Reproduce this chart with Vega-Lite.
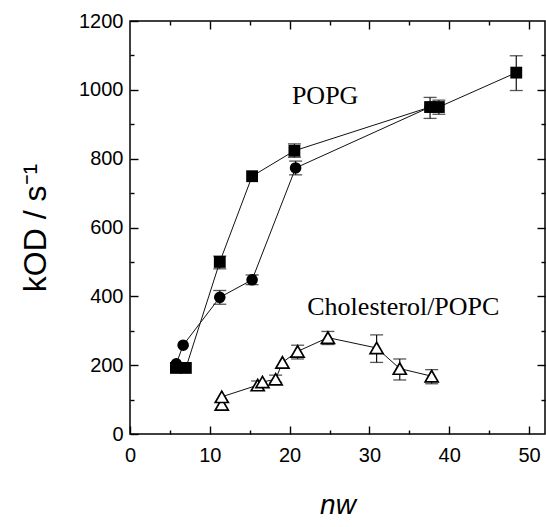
{
  "$schema": "https://vega.github.io/schema/vega-lite/v6.json",
  "width": 415,
  "height": 413,
  "autosize": "none",
  "padding": {"left": 130, "top": 21, "right": 1, "bottom": 93},
  "background": "white",
  "config": {
    "view": {"stroke": "black", "strokeWidth": 1.5},
    "axis": {"domain": false, "grid": false, "tickColor": "black", "labelColor": "black", "titleColor": "black", "labelFont": "Liberation Sans", "titleFont": "Liberation Sans", "labelFontSize": 20, "titleFontWeight": "normal", "labelFlush": false, "labelOverlap": false, "tickWidth": 1.4, "format": "d"}
  },
  "datasets": {
    "pts": [
      {"s": "circle", "o": 1, "x": 5.8, "y": 204},
      {"s": "circle", "o": 2, "x": 6.66, "y": 258},
      {"s": "circle", "o": 3, "x": 11.25, "y": 397},
      {"s": "circle", "o": 4, "x": 15.3, "y": 448},
      {"s": "circle", "o": 5, "x": 20.75, "y": 773},
      {"s": "circle", "o": 6, "x": 37.6, "y": 950},
      {"s": "square", "o": 1, "x": 5.75, "y": 192},
      {"s": "square", "o": 2, "x": 7.0, "y": 192},
      {"s": "square", "o": 3, "x": 11.25, "y": 500},
      {"s": "square", "o": 4, "x": 15.3, "y": 749},
      {"s": "square", "o": 5, "x": 20.6, "y": 823},
      {"s": "square", "o": 6, "x": 37.6, "y": 950},
      {"s": "square", "o": 7, "x": 38.7, "y": 950},
      {"s": "square", "o": 8, "x": 48.4, "y": 1050},
      {"s": "tri", "o": 1, "x": 11.5, "y": 86},
      {"s": "tri", "o": 2, "x": 11.5, "y": 108},
      {"s": "tri", "o": 3, "x": 16.0, "y": 142},
      {"s": "tri", "o": 4, "x": 16.6, "y": 151},
      {"s": "tri", "o": 5, "x": 18.25, "y": 159},
      {"s": "tri", "o": 6, "x": 19.1, "y": 208},
      {"s": "tri", "o": 7, "x": 21.0, "y": 240},
      {"s": "tri", "o": 8, "x": 24.8, "y": 280},
      {"s": "tri", "o": 9, "x": 30.9, "y": 250},
      {"s": "tri", "o": 10, "x": 33.8, "y": 190},
      {"s": "tri", "o": 11, "x": 37.8, "y": 168}
    ],
    "err": [
      {"s": "square", "x": 11.25, "lo": 480, "hi": 517},
      {"s": "square", "x": 20.6, "lo": 804, "hi": 843},
      {"s": "square", "x": 37.6, "lo": 917, "hi": 978},
      {"s": "square", "x": 38.7, "lo": 929, "hi": 970},
      {"s": "square", "x": 48.4, "lo": 998, "hi": 1099},
      {"s": "circle", "x": 11.25, "lo": 377, "hi": 417},
      {"s": "circle", "x": 15.3, "lo": 434, "hi": 462},
      {"s": "circle", "x": 20.75, "lo": 753, "hi": 793},
      {"s": "tri", "x": 16.0, "lo": 127, "hi": 154},
      {"s": "tri", "x": 18.25, "lo": 150, "hi": 171},
      {"s": "tri", "x": 21.0, "lo": 218, "hi": 258},
      {"s": "tri", "x": 24.8, "lo": 260, "hi": 298},
      {"s": "tri", "x": 30.9, "lo": 208, "hi": 288},
      {"s": "tri", "x": 33.8, "lo": 157, "hi": 218},
      {"s": "tri", "x": 37.8, "lo": 146, "hi": 187}
    ],
    "lbl": [
      {"label": "POPG", "x": 24.45, "y": 982},
      {"label": "Cholesterol/POPC", "x": 34.25, "y": 368}
    ]
  },
  "layer": [
    {
      "data": {"name": "pts"},
      "mark": {"type": "point", "opacity": 0},
      "encoding": {
        "x": {"field": "x", "type": "quantitative", "scale": {"domain": [0, 52], "nice": false, "zero": false},
          "axis": {"orient": "bottom", "values": [5, 15, 25, 35, 45], "labels": false, "tickSize": -4, "title": null}},
        "y": {"field": "y", "type": "quantitative", "scale": {"domain": [0, 1200], "nice": false, "zero": false},
          "axis": {"orient": "left", "values": [100, 300, 500, 700, 900, 1100], "labels": false, "tickSize": -4, "title": null}}
      }
    },
    {
      "data": {"name": "pts"},
      "mark": {"type": "point", "opacity": 0},
      "encoding": {
        "x": {"field": "x", "type": "quantitative", "scale": {"domain": [0, 52], "nice": false, "zero": false},
          "axis": {"orient": "top", "values": [5, 15, 25, 35, 45], "labels": false, "tickSize": -4, "title": null}},
        "y": {"field": "y", "type": "quantitative", "scale": {"domain": [0, 1200], "nice": false, "zero": false},
          "axis": {"orient": "right", "values": [100, 300, 500, 700, 900, 1100], "labels": false, "tickSize": -4, "title": null}}
      }
    },
    {
      "data": {"name": "pts"},
      "mark": {"type": "point", "opacity": 0},
      "encoding": {
        "x": {"field": "x", "type": "quantitative", "scale": {"domain": [0, 52], "nice": false, "zero": false},
          "axis": {"orient": "top", "values": [10, 20, 30, 40, 50], "labels": false, "tickSize": -8, "title": null}},
        "y": {"field": "y", "type": "quantitative", "scale": {"domain": [0, 1200], "nice": false, "zero": false},
          "axis": {"orient": "right", "values": [200, 400, 600, 800, 1000], "labels": false, "tickSize": -8, "title": null}}
      }
    },
    {
      "data": {"name": "err"},
      "mark": {"type": "rule", "color": "#111", "strokeWidth": 1.2},
      "encoding": {
        "x": {"field": "x", "type": "quantitative", "scale": {"domain": [0, 52], "nice": false, "zero": false},
          "axis": {"orient": "bottom", "values": [0, 10, 20, 30, 40, 50], "tickSize": -8, "labelPadding": 19, "title": "nw", "titleFontSize": 28, "titleFontStyle": "italic", "titlePadding": 26}},
        "y": {"field": "lo", "type": "quantitative", "scale": {"domain": [0, 1200], "nice": false, "zero": false},
          "axis": {"orient": "left", "values": [0, 200, 400, 600, 800, 1000, 1200], "tickSize": -8, "labelPadding": 15, "title": "kOD / s⁻¹", "titleFontSize": 32, "titlePadding": 26}},
        "y2": {"field": "hi"}
      }
    },
    {
      "data": {"name": "err"},
      "mark": {"type": "tick", "orient": "horizontal", "size": 13, "thickness": 1.3, "color": "#111"},
      "encoding": {
        "x": {"field": "x", "type": "quantitative", "scale": {"domain": [0, 52], "nice": false, "zero": false}, "axis": null},
        "y": {"field": "lo", "type": "quantitative", "scale": {"domain": [0, 1200], "nice": false, "zero": false}, "axis": null}
      }
    },
    {
      "data": {"name": "err"},
      "mark": {"type": "tick", "orient": "horizontal", "size": 13, "thickness": 1.3, "color": "#111"},
      "encoding": {
        "x": {"field": "x", "type": "quantitative", "scale": {"domain": [0, 52], "nice": false, "zero": false}, "axis": null},
        "y": {"field": "hi", "type": "quantitative", "scale": {"domain": [0, 1200], "nice": false, "zero": false}, "axis": null}
      }
    },
    {
      "data": {"name": "pts"},
      "mark": {"type": "line", "color": "#111", "strokeWidth": 1},
      "encoding": {
        "x": {"field": "x", "type": "quantitative", "scale": {"domain": [0, 52], "nice": false, "zero": false}, "axis": null},
        "y": {"field": "y", "type": "quantitative", "scale": {"domain": [0, 1200], "nice": false, "zero": false}, "axis": null},
        "detail": {"field": "s", "type": "nominal"},
        "order": {"field": "o", "type": "quantitative"}
      }
    },
    {
      "data": {"name": "pts"},
      "transform": [{"filter": "datum.s === 'circle'"}],
      "mark": {"type": "point", "shape": "circle", "filled": true, "color": "black", "opacity": 1, "size": 135},
      "encoding": {
        "x": {"field": "x", "type": "quantitative", "scale": {"domain": [0, 52], "nice": false, "zero": false}, "axis": null},
        "y": {"field": "y", "type": "quantitative", "scale": {"domain": [0, 1200], "nice": false, "zero": false}, "axis": null}
      }
    },
    {
      "data": {"name": "pts"},
      "transform": [{"filter": "datum.s === 'square'"}],
      "mark": {"type": "point", "shape": "square", "filled": true, "color": "black", "opacity": 1, "size": 140},
      "encoding": {
        "x": {"field": "x", "type": "quantitative", "scale": {"domain": [0, 52], "nice": false, "zero": false}, "axis": null},
        "y": {"field": "y", "type": "quantitative", "scale": {"domain": [0, 1200], "nice": false, "zero": false}, "axis": null}
      }
    },
    {
      "data": {"name": "pts"},
      "transform": [{"filter": "datum.s === 'tri'"}],
      "mark": {"type": "point", "shape": "triangle-up", "filled": true, "fill": "white", "stroke": "black", "strokeWidth": 1.7, "opacity": 1, "size": 170},
      "encoding": {
        "x": {"field": "x", "type": "quantitative", "scale": {"domain": [0, 52], "nice": false, "zero": false}, "axis": null},
        "y": {"field": "y", "type": "quantitative", "scale": {"domain": [0, 1200], "nice": false, "zero": false}, "axis": null}
      }
    },
    {
      "data": {"name": "lbl"},
      "mark": {"type": "text", "font": "Liberation Serif", "fontSize": 26, "color": "black", "align": "center", "baseline": "middle"},
      "encoding": {
        "x": {"field": "x", "type": "quantitative", "scale": {"domain": [0, 52], "nice": false, "zero": false}, "axis": null},
        "y": {"field": "y", "type": "quantitative", "scale": {"domain": [0, 1200], "nice": false, "zero": false}, "axis": null},
        "text": {"field": "label", "type": "nominal"}
      }
    }
  ],
  "resolve": {"axis": {"x": "independent", "y": "independent"}}
}
